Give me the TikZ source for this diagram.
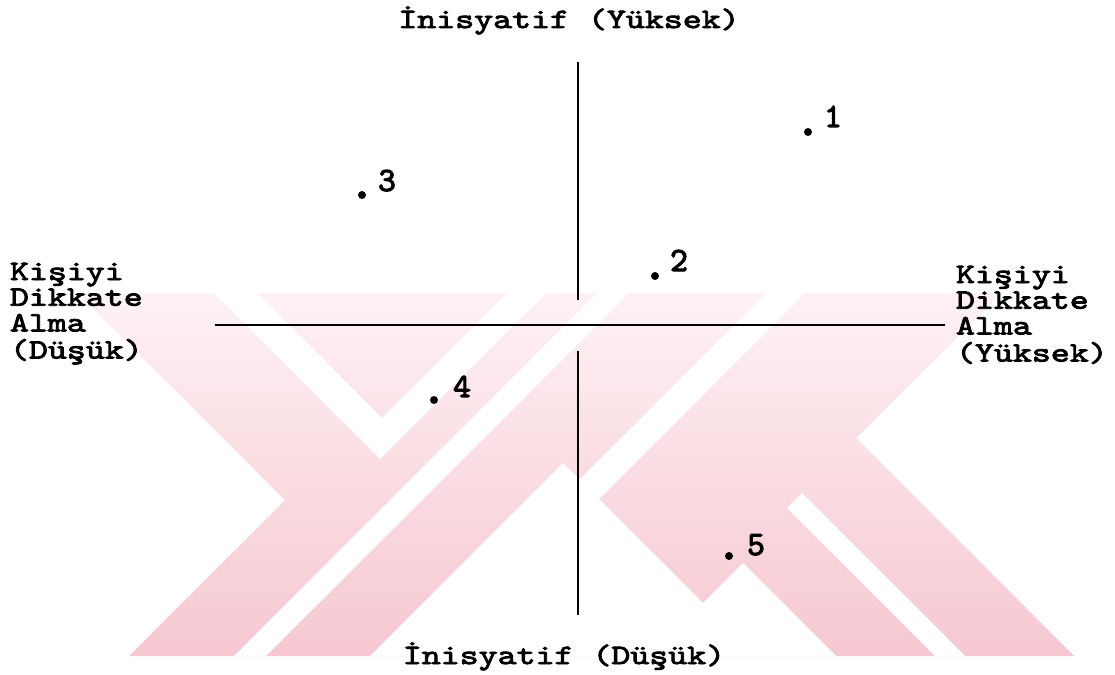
\documentclass[tikz,border=0pt]{standalone}
\usepackage{fontspec}
\newfontfamily\twf[FakeBold=3,FakeStretch=1.29]{lmmono10-regular.otf}
\newfontfamily\twdf[FakeBold=3]{lmmono10-regular.otf}
\definecolor{wmtop}{RGB}{254,241,244}
\definecolor{wmbot}{RGB}{246,200,209}
\tikzset{
  lbl/.style={inner sep=0pt, outer sep=0pt, anchor=base west, font=\twf\fontsize{28}{25.7}\selectfont},
  ctr/.style={inner sep=0pt, outer sep=0pt, anchor=base, font=\twf\fontsize{28}{30}\selectfont},
  num/.style={inner sep=0pt, outer sep=0pt, anchor=base, font=\twdf\fontsize{34}{36}\selectfont},
  axisline/.style={line width=2.6pt, black},
  pt/.style={circle, fill=black, inner sep=0pt, minimum size=8pt},
  wm/.style={fill=white, draw=none}
}
\begin{document}
\begin{tikzpicture}[x=1pt,y=-1pt]
\useasboundingbox (0,0) rectangle (1115,674);
\fill[white] (0,0) rectangle (1115,674);
% watermark
\begin{scope}
\clip (78,293) -- (1002,293) -- (856,438) -- (1074,656) -- (129,656) -- (285,500) -- cycle;
\shade[top color=wmtop,bottom color=wmbot] (0,293) rectangle (1115,656);
\end{scope}
\fill[wm] (597,293) -- (629,293) -- (266,656) -- (234,656) -- cycle;
\fill[wm] (214,293) -- (257,293) -- (382,418) -- (507,293) -- (546,293) -- (380,459) -- cycle;
\fill[wm] (766,293) -- (805,293) -- (599,499) -- (703,603) -- (743,563) -- (836,656)
  -- (370,656) -- (563,463) -- (579.5,479.5) -- cycle;
\fill[wm] (787,508) -- (802,493) -- (965,656) -- (935,656) -- cycle;
% axes
\coordinate (vt) at (578,62);
\coordinate (vm) at (578,300);
\coordinate (vb1) at (578,351);
\coordinate (vb2) at (578,615);
\coordinate (hl) at (215,325);
\coordinate (hr) at (945,325);
\draw[axisline] (vt) -- (vm);
\draw[axisline] (vb1) -- (vb2);
\draw[axisline] (hl) -- (hr);
% labels
\node[ctr] (top) at (569,28) {İnisyatif (Yüksek)};
\node[ctr] (bot) at (564,664) {İnisyatif (Düşük)};
\node[lbl] (left) at (10,280) {\begin{tabular}[t]{@{}l@{}}Kişiyi\\Dikkate\\Alma\\(Düşük)\end{tabular}};
\node[lbl] (right) at (956,283) {\begin{tabular}[t]{@{}l@{}}Kişiyi\\Dikkate\\Alma\\(Yüksek)\end{tabular}};
% points
\node[pt] (p1) at (808,132) {};
\node[num] (n1) at (833,127) {1};
\node[pt] (p2) at (655,276) {};
\node[num] (n2) at (679,271) {2};
\node[pt] (p3) at (362,195) {};
\node[num] (n3) at (387,191) {3};
\node[pt] (p4) at (434,400) {};
\node[num] (n4) at (462,397) {4};
\node[pt] (p5) at (729,556) {};
\node[num] (n5) at (756,555) {5};
\end{tikzpicture}
\end{document}
